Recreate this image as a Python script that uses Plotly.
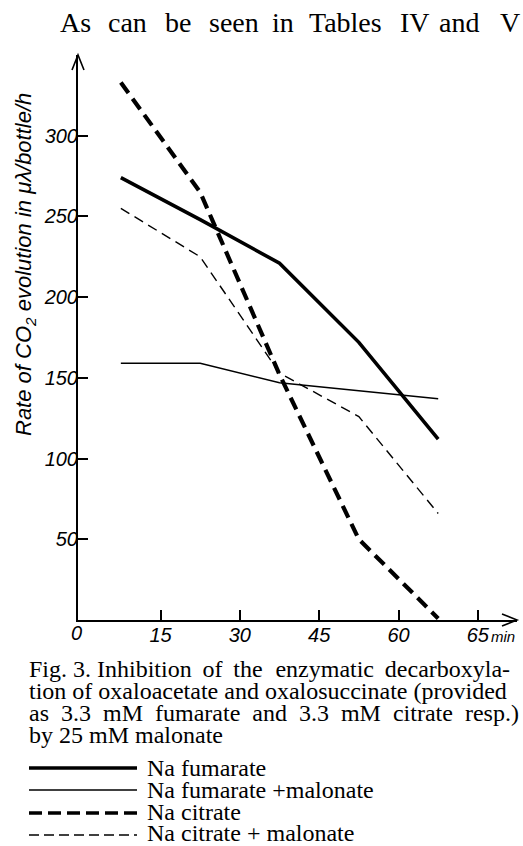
import plotly.graph_objects as go

# ---- data ----
minutes = [7.5, 22.5, 37.5, 52.5, 67.5]
na_fumarate = [274, 248, 221, 172, 112]
na_fumarate_malonate = [159, 159, 147, 142, 137]
na_citrate = [333, 265, 152, 50, 1]
na_citrate_malonate = [255, 225, 153, 126, 66]

x_tickvals = [15, 30, 45, 60, 75]
x_ticktext = ["15", "30", "45", "60", "65"]
y_tickvals = [50, 100, 150, 200, 250, 300]
y_ticktext = ["50", "100", "150", "200", "250", "300"]

top_words = ["As", "can", "be", "seen", "in", "Tables", "IV", "and", "V"]
caption_lines = [
    "Fig. 3. Inhibition\u2009 of\u2009 the\u2009\u200a enzymatic\u2009 decarboxyla-",
    "tion of oxaloacetate and oxalosuccinate (provided",
    "as\u00a0 3.3\u00a0 mM\u00a0 fumarate\u00a0 and\u00a0 3.3\u00a0 mM\u00a0 citrate\u00a0 resp.)",
    "by 25 mM malonate",
]
legend_labels = ["Na fumarate", "Na fumarate +malonate", "Na citrate", "Na citrate + malonate"]

W, H = 523, 846
L, R, T, B = 78, 6, 55, 226
PW, PH = W - L - R, H - T - B


def PX(x):
    return (x - L) / PW


def PY(y):
    return (H - B - y) / PH


SERIF = "Liberation Serif, Times New Roman, serif"
SANS = "Liberation Sans, Arial, sans-serif"

styles = [
    dict(width=3.6, dash="solid", leg_dash="solid", leg_w=3.4),
    dict(width=1.5, dash="solid", leg_dash="solid", leg_w=1.4),
    dict(width=4.2, dash="13px,7px", leg_dash="13px,6px", leg_w=3.4),
    dict(width=1.4, dash="10px,6px", leg_dash="10px,5px", leg_w=1.4),
]
series = [na_fumarate, na_fumarate_malonate, na_citrate, na_citrate_malonate]

fig = go.Figure()
for name, ys, st in zip(legend_labels, series, styles):
    fig.add_trace(go.Scatter(x=minutes, y=ys, mode="lines", name=name,
                             line=dict(color="black", width=st["width"], dash=st["dash"]),
                             showlegend=False))

annotations = []
# top running text (justified words)
word_x = [58, 106, 163, 207, 270, 307, 398, 437, 498]
for w, xx in zip(top_words, word_x):
    annotations.append(dict(text=w, x=PX(xx), y=PY(22), xref="paper", yref="paper",
                            xanchor="left", yanchor="middle", showarrow=False,
                            font=dict(family=SERIF, size=28, color="black")))

# y-axis title
annotations.append(dict(text="Rate of CO<sub>2</sub> evolution in \u03bc\u03bb/bottle/h",
                        x=PX(25), y=PY(265), xref="paper", yref="paper",
                        xanchor="center", yanchor="middle", textangle=-90, showarrow=False,
                        font=dict(family=SANS, size=22, color="black", style="italic")))
# "0" and "min" labels on x axis
annotations.append(dict(text="0", x=PX(76), y=PY(633), xref="paper", yref="paper",
                        xanchor="center", yanchor="middle", showarrow=False,
                        font=dict(family=SANS, size=20, color="black", style="italic")))
annotations.append(dict(text="min", x=PX(489), y=PY(636), xref="paper", yref="paper",
                        xanchor="left", yanchor="middle", showarrow=False,
                        font=dict(family=SANS, size=15, color="black", style="italic")))

# caption
cap_mid = [669, 691, 713, 735]
for line, yy in zip(caption_lines, cap_mid):
    annotations.append(dict(text=line, x=PX(27), y=PY(yy), xref="paper", yref="paper",
                            xanchor="left", yanchor="middle", showarrow=False,
                            font=dict(family=SERIF, size=24, color="black")))

# legend
leg_mid = [768, 790, 812, 833]
leg_line = [768, 790, 813, 835]
shapes = []
for lab, yy, yl, st in zip(legend_labels, leg_mid, leg_line, styles):
    annotations.append(dict(text=lab, x=PX(145), y=PY(yy), xref="paper", yref="paper",
                            xanchor="left", yanchor="middle", showarrow=False,
                            font=dict(family=SERIF, size=24, color="black")))
    shapes.append(dict(type="line", xref="paper", yref="paper",
                       x0=PX(29), x1=PX(137), y0=PY(yl), y1=PY(yl),
                       line=dict(color="black", width=st["leg_w"], dash=st["leg_dash"])))

# axis arrowheads
shapes.append(dict(type="path", xref="paper", yref="paper", xsizemode="pixel", ysizemode="pixel",
                   xanchor=PX(78), yanchor=PY(55), path="M -6,-15 L 0,0 L 6,-15",
                   line=dict(color="black", width=1.6)))
shapes.append(dict(type="path", xref="paper", yref="paper", xsizemode="pixel", ysizemode="pixel",
                   xanchor=PX(517), yanchor=PY(620), path="M -15,6 L 0,0 L -15,-6",
                   line=dict(color="black", width=1.6)))

fig.update_layout(
    width=W, height=H,
    margin=dict(l=L, r=R, t=T, b=B),
    paper_bgcolor="white", plot_bgcolor="white",
    annotations=annotations, shapes=shapes,
    showlegend=False,
    xaxis=dict(range=[-0.6, 82.4], tickvals=x_tickvals, ticktext=x_ticktext,
               ticks="inside", ticklen=10, tickwidth=2, tickcolor="black",
               showline=True, linecolor="black", linewidth=2, showgrid=False, zeroline=False,
               ticklabelstandoff=-4,
               tickfont=dict(family=SANS, size=20, color="black", style="italic")),
    yaxis=dict(range=[0, 350], tickvals=y_tickvals, ticktext=y_ticktext,
               ticks="inside", ticklen=10, tickwidth=2, tickcolor="black",
               showline=True, linecolor="black", linewidth=2, showgrid=False, zeroline=False,
               ticklabelstandoff=-6,
               tickfont=dict(family=SANS, size=20, color="black", style="italic")),
)

fig.write_html("out.html")
